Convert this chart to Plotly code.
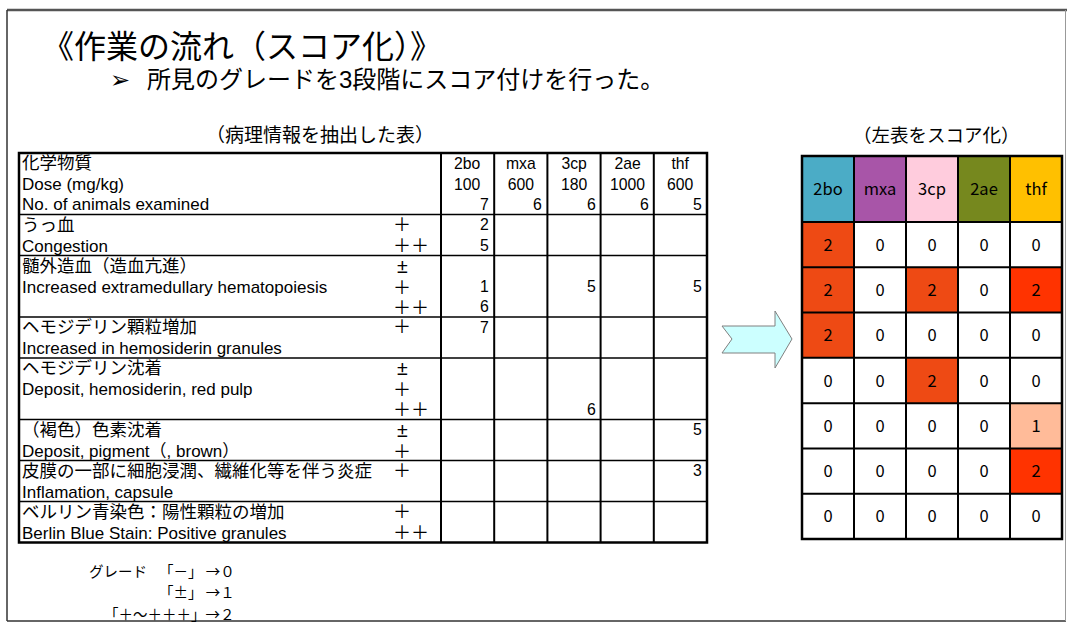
import plotly.graph_objects as go

W, H = 1067, 624

# ---------------- data ----------------
chemicals = ["2bo", "mxa", "3cp", "2ae", "thf"]
doses = [100, 600, 180, 1000, 600]
n_animals = [7, 6, 6, 6, 5]

header_labels = ["化学物質", "Dose (mg/kg)", "No. of animals examined"]

findings_ja = ["うっ血", "髄外造血（造血亢進）", "ヘモジデリン顆粒増加", "ヘモジデリン沈着",
               "（褐色）色素沈着", "皮膜の一部に細胞浸潤、繊維化等を伴う炎症", "ベルリン青染色：陽性顆粒の増加"]
findings_en = ["Congestion", "Increased extramedullary hematopoiesis", "Increased in hemosiderin granules",
               "Deposit, hemosiderin, red pulp", "Deposit, pigment（, brown）", "Inflamation, capsule",
               "Berlin Blue Stain: Positive granules"]
grade_marks = [["＋", "＋＋"], ["±", "＋", "＋＋"], ["＋"], ["±", "＋", "＋＋"],
               ["±", "＋"], ["＋"], ["＋", "＋＋"]]

# (finding index, grade, chemical, number of animals)
incidence = [
    (0, "＋", "2bo", 2), (0, "＋＋", "2bo", 5),
    (1, "＋", "2bo", 1), (1, "＋", "3cp", 5), (1, "＋", "thf", 5), (1, "＋＋", "2bo", 6),
    (2, "＋", "2bo", 7),
    (3, "＋＋", "3cp", 6),
    (4, "±", "thf", 5),
    (5, "＋", "thf", 3),
]

scores = [
    [2, 0, 0, 0, 0],
    [2, 0, 2, 0, 2],
    [2, 0, 0, 0, 0],
    [0, 0, 2, 0, 0],
    [0, 0, 0, 0, 1],
    [0, 0, 0, 0, 2],
    [0, 0, 0, 0, 0],
]

grade_label = "グレード"
grade_rules = ["「－」 →０", "「±」 →１", "「＋～＋＋＋」→２"]

title = "《作業の流れ（スコア化）》"
subtitle = "所見のグレードを3段階にスコア付けを行った。"
left_caption = "（病理情報を抽出した表）"
right_caption = "（左表をスコア化）"

# ---------------- styles ----------------
JP = "Noto Sans CJK JP, DejaVu Sans, sans-serif"
TF = "Liberation Sans, Noto Sans CJK JP, DejaVu Sans, sans-serif"
header_colors = ["#4BACC6", "#A855A8", "#FFCCDD", "#76881E", "#FFC000"]
score_colors = ["#FFFFFF", "#FFBB99", "#EE4A14", "#FF3300"]
NB = "\u00a0"

fig = go.Figure()
shapes = []
ann = []


def text(x, y, s, size, xanchor="left", family=JP, align=None):
    ann.append(dict(x=x, y=y, xref="x", yref="y", text=s, showarrow=False,
                    xanchor=xanchor, yanchor="middle", borderpad=0,
                    align=align or ("center" if xanchor == "center" else xanchor),
                    font=dict(family=family, size=size, color="black")))


def line(x0, y0, x1, y1, w=1.8, color="black"):
    shapes.append(dict(type="line", xref="x", yref="y", x0=x0, y0=y0, x1=x1, y1=y1,
                       line=dict(color=color, width=w), layer="above"))


def sz(s, px):
    return f"<span style='font-size:{px}px'>{s}</span>"


# slide frame
line(7, 10, W, 10, 2.5, "#555555")
line(7, 10, 7, 621, 1.5, "#333333")
line(7, 621, W - 1, 621, 1.5, "#333333")
line(W - 1.5, 10, W - 1.5, 621, 1, "#999999")

# titles
text(41, 47, title, 32, family=TF)
text(109, 79, "➢", 24, family=TF)
text(146, 79, subtitle, 24, family=TF)
text(320, 133, left_caption, 19, "center")
text(936, 134, right_caption, 18.5, "center")

# ---------------- left table ----------------
T_LEFT, T_RIGHT, LABEL_RIGHT = 19, 707, 441
MARK_X = 392
T_TOP = 153
PITCH = 20.5
BASE = PITCH / 1.3          # plotly line spacing is 1.3 em
JA_PX, EN_PX, MARK_PX, PM_PX, NUM_PX = 17.5, 17, 18, 19.5, 15.8
ncol = len(chemicals)
col_w = (T_RIGHT - LABEL_RIGHT) / ncol
col_edges = [LABEL_RIGHT + i * col_w for i in range(ncol + 1)]


def mark(g):
    return sz("\u2009" + g, PM_PX) if g == "±" else sz(g, MARK_PX)


# header
text(T_LEFT + 2, T_TOP + 1.5 * PITCH,
     "<br>".join([sz(header_labels[0], JA_PX)] + [sz(s, EN_PX) for s in header_labels[1:]]), BASE, family=TF)
for j, c in enumerate(chemicals):
    cx = (col_edges[j] + col_edges[j + 1]) / 2
    text(cx, T_TOP + PITCH, f"{c}<br>{doses[j]}", BASE, "center", family=TF)
    text(col_edges[j + 1] - 4, T_TOP + 2.5 * PITCH, str(n_animals[j]), NUM_PX, "right", family=TF)

row_bounds = [T_TOP, T_TOP + 3 * PITCH]
for f in range(len(findings_ja)):
    top = row_bounds[-1]
    nl = max(2, len(grade_marks[f]))
    mid = top + nl * PITCH / 2
    text(T_LEFT + 2, top + PITCH, sz(findings_ja[f], JA_PX) + "<br>" + sz(findings_en[f], EN_PX), BASE, family=TF)
    gm = grade_marks[f]
    text(MARK_X, top + len(gm) * PITCH / 2, "<br>".join(mark(g) for g in gm), BASE, family=TF)
    for j, chem in enumerate(chemicals):
        cells = [NB] * nl
        for ff, g, cc, n in incidence:
            if ff == f and cc == chem:
                cells[gm.index(g)] = str(n)
        if any(c != NB for c in cells):
            text(col_edges[j + 1] - 4, mid, "<br>".join(sz(c, NUM_PX) for c in cells), BASE, "right", family=TF)
    row_bounds.append(top + nl * PITCH)

T_BOTTOM = row_bounds[-1]
for yb in row_bounds[1:-1]:
    line(T_LEFT, yb, T_RIGHT, yb, 1.5)
for xb in col_edges[:-1]:
    line(xb, T_TOP, xb, T_BOTTOM, 2)
shapes.append(dict(type="rect", xref="x", yref="y", x0=T_LEFT, y0=T_TOP, x1=T_RIGHT, y1=T_BOTTOM,
                   line=dict(color="black", width=2.5), layer="above"))

# ---------------- arrow ----------------
shapes.append(dict(type="path", xref="x", yref="y",
                   path="M722,326 L775,326 L775,311 L792,339 L775,368 L775,353 L722,353 L732,339 Z",
                   fillcolor="#CCFFFF", line=dict(color="#808080", width=1)))

# ---------------- right score table ----------------
R_LEFT, R_RIGHT, R_TOP, R_HDR, R_BOTTOM = 802, 1062, 156, 222, 539
nrow = len(scores)

fig.add_trace(go.Heatmap(
    z=[list(range(ncol))], x=chemicals, y=["h"], text=[chemicals],
    texttemplate="%{text}", textfont=dict(family=JP, size=16.5, color="black"),
    colorscale=[[i / (ncol - 1), c] for i, c in enumerate(header_colors)],
    zmin=0, zmax=ncol - 1, showscale=False, hoverinfo="skip",
    xaxis="x3", yaxis="y3"))

# body heatmap (value 2 in thf drawn in brighter red)
color_code = [[(3 if (v == 2 and chemicals[j] == "thf") else v) for j, v in enumerate(r)] for r in scores]
fig.add_trace(go.Heatmap(
    z=color_code, x=chemicals, y=list(range(nrow)), text=scores,
    texttemplate="%{text}", textfont=dict(family=JP, size=16.5, color="black"),
    colorscale=[[i / 3, c] for i, c in enumerate(score_colors)],
    zmin=0, zmax=3, showscale=False, hoverinfo="skip",
    xaxis="x2", yaxis="y2"))

rc_w = (R_RIGHT - R_LEFT) / ncol
rr_h = (R_BOTTOM - R_HDR) / nrow
for j in range(1, ncol):
    line(R_LEFT + j * rc_w, R_TOP, R_LEFT + j * rc_w, R_BOTTOM, 2)
line(R_LEFT, R_HDR, R_RIGHT, R_HDR, 2)
for i in range(1, nrow):
    line(R_LEFT, R_HDR + i * rr_h, R_RIGHT, R_HDR + i * rr_h, 2)
shapes.append(dict(type="rect", xref="x", yref="y", x0=R_LEFT, y0=R_TOP, x1=R_RIGHT, y1=R_BOTTOM,
                   line=dict(color="black", width=2.5), layer="above"))

# ---------------- grade rules ----------------
text(88, 570, grade_label, 14.5)
for i, s in enumerate(grade_rules):
    text(236, 570 + i * 21.5, s, 14.5, "right")

hidden = dict(visible=False, showgrid=False, zeroline=False, fixedrange=True)
fig.update_layout(
    width=W, height=H, margin=dict(l=0, r=0, t=0, b=0),
    paper_bgcolor="white", plot_bgcolor="rgba(0,0,0,0)", showlegend=False,
    xaxis=dict(range=[0, W], domain=[0, 1], **hidden),
    yaxis=dict(range=[H, 0], domain=[0, 1], **hidden),
    xaxis2=dict(domain=[R_LEFT / W, R_RIGHT / W], anchor="y2", **hidden),
    yaxis2=dict(domain=[1 - R_BOTTOM / H, 1 - R_HDR / H], anchor="x2", autorange="reversed", **hidden),
    xaxis3=dict(domain=[R_LEFT / W, R_RIGHT / W], anchor="y3", **hidden),
    yaxis3=dict(domain=[1 - R_HDR / H, 1 - R_TOP / H], anchor="x3", **hidden),
    shapes=shapes, annotations=ann,
)

fig.write_html("out.html", config={"displayModeBar": False},
               post_script="document.body.style.margin='0';document.body.style.overflow='hidden';")
